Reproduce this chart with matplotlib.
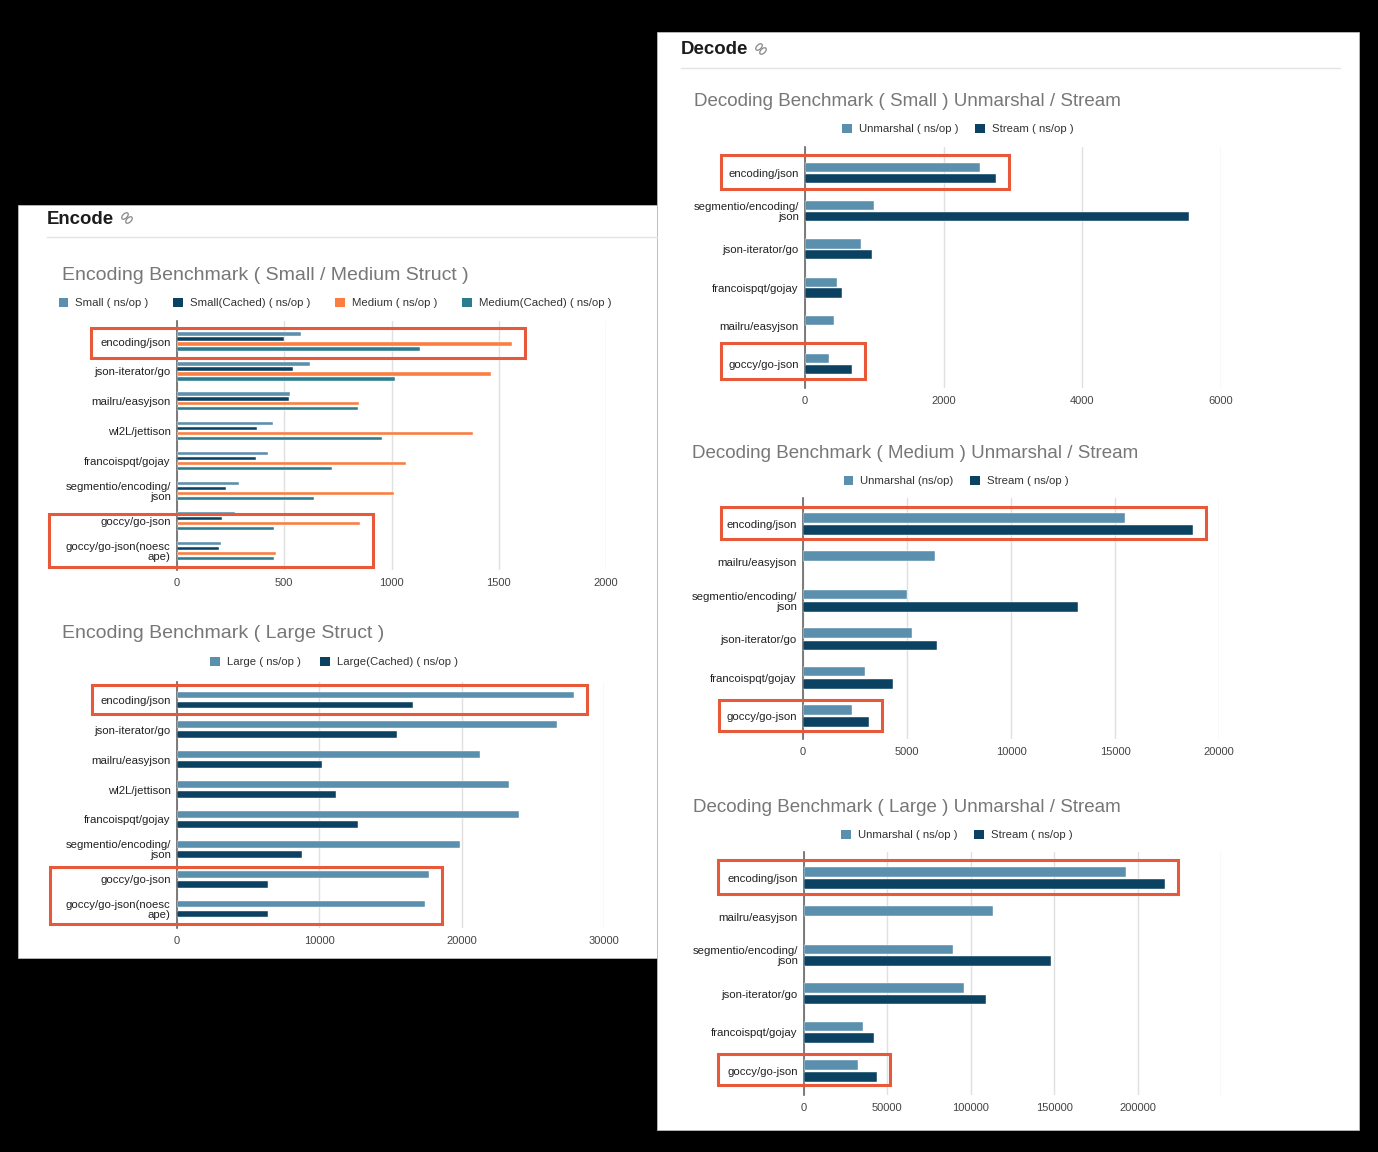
import numpy as np
import matplotlib
matplotlib.use("Agg")
import matplotlib.pyplot as plt
from matplotlib.patches import Rectangle, Ellipse, Patch
from matplotlib.lines import Line2D
from matplotlib.transforms import IdentityTransform

plt.rcParams['font.family'] = ['Liberation Sans', 'DejaVu Sans']

# ---- data (ns/op) ----
enc_cats = ['encoding/json', 'json-iterator/go', 'mailru/easyjson', 'wl2L/jettison',
            'francoispqt/gojay', 'segmentio/encoding/\njson', 'goccy/go-json',
            'goccy/go-json(noesc\nape)']
enc_small = [579, 620, 525, 448, 425, 289, 271, 204]
enc_small_cached = [498, 541, 521, 375, 366, 227, 211, 198]
enc_medium = [1561, 1466, 850, 1382, 1066, 1013, 854, 461]
enc_medium_cached = [1134, 1016, 846, 954, 723, 638, 454, 454]
enc_large = [27876, 26720, 21290, 23333, 24005, 19866, 17715, 17446]
enc_large_cached = [16613, 15484, 10188, 11183, 12688, 8763, 6398, 6398]

dec_small_cats = ['encoding/json', 'segmentio/encoding/\njson', 'json-iterator/go',
                  'francoispqt/gojay', 'mailru/easyjson', 'goccy/go-json']
dec_small_unmarshal = [2518, 998, 806, 456, 412, 341]
dec_small_stream = [2758, 5535, 969, 532, np.nan, 671]

dec_cats = ['encoding/json', 'mailru/easyjson', 'segmentio/encoding/\njson',
            'json-iterator/go', 'francoispqt/gojay', 'goccy/go-json']
dec_medium_unmarshal = [15474, 6366, 4986, 5225, 2999, 2337]
dec_medium_stream = [18767, np.nan, 13211, 6458, 4324, 3165]
dec_large_unmarshal = [193135, 113043, 89474, 96110, 35469, 32494]
dec_large_stream = [216247, np.nan, 148284, 109382, 42105, 43936]

# ---- colours ----
C_LIGHT = '#5b8fae'
C_DARK = '#0b4262'
C_ORANGE = '#fb7d3f'
C_TEAL = '#2b7c8e'
C_BOX = '#e8593a'

W, H = 1378, 1152
fig = plt.figure(figsize=(W / 100, H / 100), dpi=100, facecolor='black')


def panel(l, t, r, b):
    fig.patches.append(Rectangle((l / W, 1 - b / H), (r - l) / W, (b - t) / H,
                                 transform=fig.transFigure, facecolor='white',
                                 edgecolor='#bbbbbb', lw=0.6, zorder=-5))


def heading(text, x, y, line_end):
    fig.text(x / W, 1 - y / H, text, fontsize=13.4, fontweight='bold',
             color='#1c1c1c', va='center', ha='left')
    # little chain-link icon
    ix = x + 80
    for dx, dy in [(-2, -2), (2, 2)]:
        fig.patches.append(Ellipse((ix + dx, H - y + 1 - dy), 8, 4.5, angle=45,
                                   transform=IdentityTransform(), fill=False,
                                   edgecolor='#888888', lw=0.9))
    fig.add_artist(Line2D([x / W, line_end / W], [1 - (y + 18) / H] * 2,
                          color='#e4e4e4', lw=1, transform=fig.transFigure))


def chart(box, centers, cats, series, labels, colors, offsets, height, xmax,
          ticks, ticklabels, title, title_xy, title_size, legend_xy, legend_gap,
          highlights):
    l, t, r, b = box
    y_first, y_last = centers
    n = len(cats)
    slot = (y_last - y_first) / (n - 1)
    ax = fig.add_axes([l / W, 1 - b / H, (r - l) / W, (b - t) / H])
    ax.set_facecolor('none')
    y = np.arange(n)
    for vals, c, off in zip(series, colors, offsets):
        ax.barh(y + off, vals, height=height, color=c, edgecolor='white',
                linewidth=0.3, zorder=3)
    ax.set_ylim((n - 1) + (b - y_last) / slot, -(y_first - t) / slot)
    ax.set_xlim(0, xmax)
    ax.set_yticks(y)
    ax.set_yticklabels(cats, fontsize=8.2, color='#222222', linespacing=1.0)
    ax.set_xticks(ticks)
    ax.set_xticklabels(ticklabels, fontsize=8, color='#444444')
    ax.tick_params(axis='y', length=0, pad=4.5)
    ax.tick_params(axis='x', length=0, pad=5.5)
    ax.grid(axis='x', color='#e0e0e0', lw=1, zorder=0)
    ax.set_axisbelow(True)
    for s in ['top', 'right', 'bottom']:
        ax.spines[s].set_visible(False)
    ax.spines['left'].set_color('#666666')
    ax.spines['left'].set_linewidth(1.2)

    fig.text(title_xy[0] / W, 1 - title_xy[1] / H, title, fontsize=title_size,
             color='#777777', va='center', ha='left')
    handles = [Patch(facecolor=c, edgecolor='none') for c in colors]
    fig.legend(handles, labels, loc='center',
               bbox_to_anchor=(legend_xy[0] / W, 1 - legend_xy[1] / H),
               ncol=len(labels), frameon=False, fontsize=8.2,
               handlelength=0.85, handleheight=0.85, handletextpad=0.6,
               columnspacing=legend_gap, labelcolor='#333333')

    # red highlight boxes round the chosen rows
    for i0, i1, left_px, top_off, bot_off in highlights:
        vmax = np.nanmax([np.nanmax(np.asarray(s[i0:i1 + 1], float)) for s in series])
        right_px = l + vmax / xmax * (r - l) + 13
        top_px = y_first + (i0 + top_off) * slot
        bot_px = y_first + (i1 + bot_off) * slot
        fig.patches.append(Rectangle((left_px / W, 1 - bot_px / H),
                                     (right_px - left_px) / W, (bot_px - top_px) / H,
                                     transform=fig.transFigure, fill=False,
                                     edgecolor=C_BOX, lw=2.2, zorder=10))
    return ax


panel(18, 205, 657, 958)
panel(657, 32, 1359, 1130)
heading('Encode', 47, 219, 657)
heading('Decode', 681, 50, 1340)

chart((177, 321, 606, 570), (341.5, 551), enc_cats,
      [enc_small, enc_small_cached, enc_medium, enc_medium_cached],
      ['Small ( ns/op )', 'Small(Cached) ( ns/op )', 'Medium ( ns/op )',
       'Medium(Cached) ( ns/op )'],
      [C_LIGHT, C_DARK, C_ORANGE, C_TEAL], [-0.25, -0.083, 0.083, 0.25], 0.11,
      2000, [0, 500, 1000, 1500, 2000], ['0', '500', '1000', '1500', '2000'],
      'Encoding Benchmark ( Small / Medium Struct )', (62, 275), 14.0,
      (335, 303), 2.2,
      [(0, 0, 91, -0.45, 0.55), (6, 7, 49, -0.23, 0.54)])

chart((177, 682, 604, 928), (700, 909), enc_cats,
      [enc_large, enc_large_cached],
      ['Large ( ns/op )', 'Large(Cached) ( ns/op )'],
      [C_LIGHT, C_DARK], [-0.167, 0.167], 0.23,
      30000, [0, 10000, 20000, 30000], ['0', '10000', '20000', '30000'],
      'Encoding Benchmark ( Large Struct )', (62, 634), 14.0, (334, 662), 1.7,
      [(0, 0, 92, -0.5, 0.47), (6, 7, 50, -0.41, 0.5)])

chart((805, 147, 1221, 388), (173, 364), dec_small_cats,
      [dec_small_unmarshal, dec_small_stream],
      ['Unmarshal ( ns/op )', 'Stream ( ns/op )'],
      [C_LIGHT, C_DARK], [-0.143, 0.143], 0.24,
      6000, [0, 2000, 4000, 6000], ['0', '2000', '4000', '6000'],
      'Decoding Benchmark ( Small ) Unmarshal / Stream', (694, 102), 13.5,
      (958, 129), 1.5,
      [(0, 0, 721, -0.47, 0.42), (5, 5, 721, -0.55, 0.39)])

chart((803, 498, 1219, 739), (524, 716), dec_cats,
      [dec_medium_unmarshal, dec_medium_stream],
      ['Unmarshal (ns/op)', 'Stream ( ns/op )'],
      [C_LIGHT, C_DARK], [-0.16, 0.16], 0.25,
      20000, [0, 5000, 10000, 15000, 20000],
      ['0', '5000', '10000', '15000', '20000'],
      'Decoding Benchmark ( Medium ) Unmarshal / Stream', (692, 453), 13.5,
      (956, 481), 1.5,
      [(0, 0, 721, -0.44, 0.39), (5, 5, 719, -0.42, 0.39)])

chart((804, 852, 1221, 1095), (878, 1071), dec_cats,
      [dec_large_unmarshal, dec_large_stream],
      ['Unmarshal ( ns/op )', 'Stream ( ns/op )'],
      [C_LIGHT, C_DARK], [-0.15, 0.15], 0.25,
      250000, [0, 50000, 100000, 150000, 200000, 250000],
      ['0', '50000', '100000', '150000', '200000', ''],
      'Decoding Benchmark ( Large ) Unmarshal / Stream', (693, 808), 13.5,
      (957, 835), 1.5,
      [(0, 0, 718, -0.47, 0.41), (5, 5, 718, -0.44, 0.36)])

fig.savefig('out.png', dpi=100, facecolor='black')
